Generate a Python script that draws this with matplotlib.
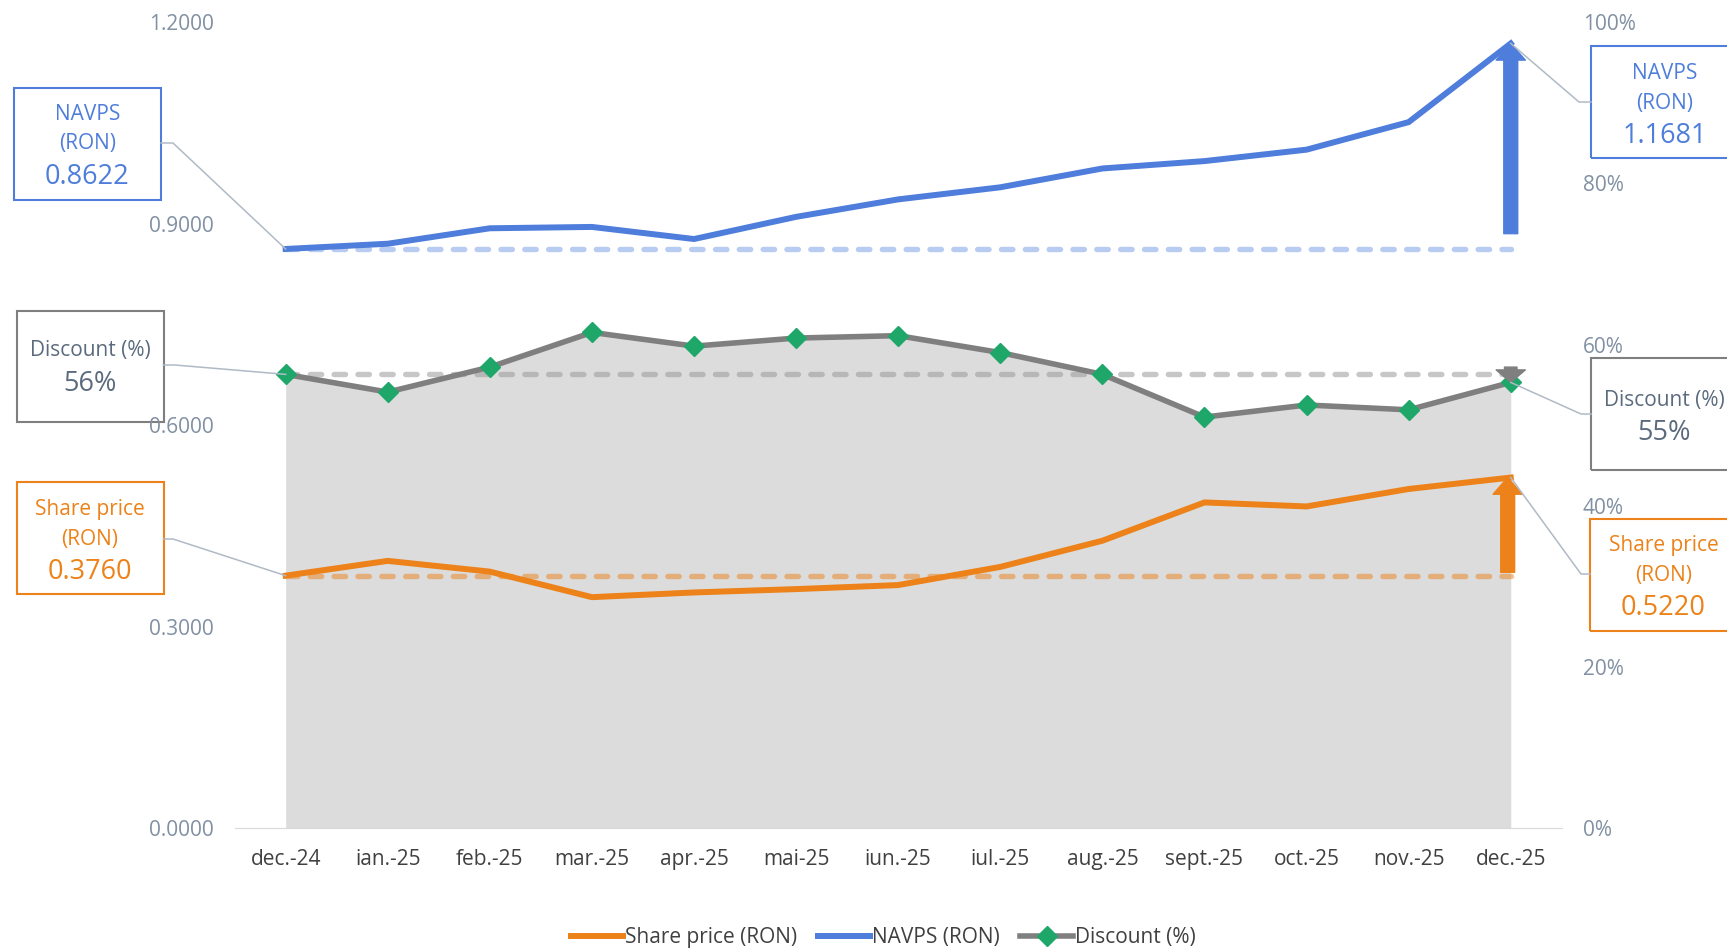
import numpy as np
import matplotlib.pyplot as plt
from matplotlib.lines import Line2D
from matplotlib.patches import Rectangle
from matplotlib.ticker import FuncFormatter

plt.rcParams['font.family'] = ['Open Sans', 'DejaVu Sans']

months = ['dec.-24', 'ian.-25', 'feb.-25', 'mar.-25', 'apr.-25', 'mai-25', 'iun.-25',
          'iul.-25', 'aug.-25', 'sept.-25', 'oct.-25', 'nov.-25', 'dec.-25']
share_price = [0.3760, 0.398, 0.382, 0.344, 0.351, 0.356, 0.362, 0.389, 0.428, 0.485, 0.479, 0.505, 0.5220]
navps = [0.8622, 0.870, 0.893, 0.895, 0.877, 0.910, 0.936, 0.954, 0.982, 0.993, 1.010, 1.051, 1.1681]
discount = [0.563, 0.541, 0.572, 0.615, 0.598, 0.608, 0.611, 0.590, 0.563, 0.510, 0.525, 0.519, 0.553]
left_ticks = [0.0, 0.3, 0.6, 0.9, 1.2]
right_ticks = [0.0, 0.2, 0.4, 0.6, 0.8, 1.0]

ORANGE = '#EC8219'
BLUE = '#4E7DDB'
GRAY = '#7F7F7F'
GREEN = '#1FA76A'
TICK = '#8190A2'
LEADER = '#B0BAC6'

W, H = 1727, 949
fig = plt.figure(figsize=(W / 100, H / 100), dpi=100)
ax = fig.add_axes([234.6 / W, 1 - 828.3 / H, (1561.8 - 234.6) / W, (828.3 - 22) / H])
ax2 = ax.twinx()
ax.set_zorder(ax2.get_zorder() + 1)
ax.patch.set_visible(False)

x = np.arange(len(months))
ax.set_xlim(-0.5, len(months) - 0.5)
ax.set_ylim(0, 1.2)
ax2.set_ylim(0, 1.0)

dash = dict(ls=(0, (2.1, 2.3)), lw=3.9, dash_capstyle='round')

# discount on the right axis (area + line)
ax2.fill_between(x, 0, discount, color='#DCDCDC', lw=0)
ax2.plot([x[0], x[-1]], [discount[0]] * 2, color='#9A9A9A', alpha=0.55, **dash)
l_disc, = ax2.plot(x, discount, color=GRAY, lw=4, marker='D', ms=10,
                   mfc=GREEN, mec=GREEN, label='Discount (%)')
ax2.annotate('', xy=(x[-1], discount[-1]), xytext=(x[-1], 0.572),
             arrowprops=dict(width=9, headwidth=21, headlength=9, color=GRAY, shrink=0))

# prices on the left axis
ax.plot([x[0], x[-1]], [navps[0]] * 2, color=BLUE, alpha=0.4, **dash)
ax.plot([x[0], x[-1]], [share_price[0]] * 2, color=ORANGE, alpha=0.5, **dash)
l_nav, = ax.plot(x, navps, color=BLUE, lw=4.3, label='NAVPS (RON)')
l_sp, = ax.plot(x, share_price, color=ORANGE, lw=4.3, label='Share price (RON)')
ax.annotate('', xy=(x[-1], navps[-1]), xytext=(x[-1], 0.885),
            arrowprops=dict(width=10, headwidth=21, headlength=12, color=BLUE, shrink=0))
ax.annotate('', xy=(x[-1] - 0.03, share_price[-1]), xytext=(x[-1] - 0.03, 0.381),
            arrowprops=dict(width=10, headwidth=21, headlength=12, color=ORANGE, shrink=0))

ax.set_xticks(x)
ax.set_xticklabels(months)
ax.set_yticks(left_ticks)
ax.yaxis.set_major_formatter(FuncFormatter(lambda v, p: '%.4f' % v))
ax2.set_yticks(right_ticks)
ax2.yaxis.set_major_formatter(FuncFormatter(lambda v, p: '%d%%' % round(v * 100)))
ax.tick_params(axis='x', length=0, pad=15, labelsize=15, labelcolor='#404040')
ax.tick_params(axis='y', length=0, pad=15, labelsize=15, labelcolor=TICK)
ax2.tick_params(axis='y', length=0, pad=15, labelsize=15, labelcolor=TICK)
for s in ['top', 'left', 'right']:
    ax.spines[s].set_visible(False)
ax.spines['bottom'].set_color('#D9D9D9')
for s in ax2.spines.values():
    s.set_visible(False)

fig.legend([l_sp, l_nav, l_disc], ['Share price (RON)', 'NAVPS (RON)', 'Discount (%)'],
           loc='center', bbox_to_anchor=(883 / W, 1 - 938 / H), ncol=3, frameon=False,
           fontsize=15, handlelength=2.5, handletextpad=0.1, columnspacing=1.0,
           labelcolor='#404040')


# callout boxes (positions in pixels, origin top-left)
def fx(px):
    return px / W


def fy(py):
    return 1 - py / H


def callout(left, top, w, h, ec, tc, texts, start, elbow, axis, pt):
    fig.add_artist(Rectangle((fx(left), fy(top + h)), w / W, h / H, transform=fig.transFigure,
                             fill=False, ec=ec, lw=1.5))
    for s, cy, size in texts:
        fig.text(fx(left + w / 2), fy(cy + 3), s, ha='center', va='center', color=tc, fontsize=size)
    px, py = fig.transFigure.inverted().transform(axis.transData.transform(pt))
    fig.add_artist(Line2D([fx(start[0]), fx(elbow[0]), px], [fy(start[1]), fy(elbow[1]), py],
                          transform=fig.transFigure, color=LEADER, lw=1.1))


DISC_TXT = '#5B6B7D'
LBL, VAL = 15, 19.5
callout(14, 88, 147, 112, BLUE, BLUE,
        [('NAVPS', 112, LBL), ('(RON)', 141, LBL), ('%.4f' % navps[0], 174, VAL)],
        (161, 143), (173, 143), ax, (x[0], navps[0]))
callout(16.5, 311, 147, 111, GRAY, DISC_TXT,
        [('Discount (%)', 348, LBL), ('%d%%' % round(discount[0] * 100), 381, VAL)],
        (163.5, 365), (175, 365), ax2, (x[0], discount[0]))
callout(16.5, 482, 147, 112, ORANGE, ORANGE,
        [('Share price', 507, LBL), ('(RON)', 536, LBL), ('%.4f' % share_price[0], 569, VAL)],
        (163.5, 539), (173, 539), ax, (x[0], share_price[0]))
callout(1591, 46, 147, 112, BLUE, BLUE,
        [('NAVPS', 70.5, LBL), ('(RON)', 100, LBL), ('%.4f' % navps[-1], 133, VAL)],
        (1591, 102), (1579, 102), ax, (x[-1], navps[-1]))
callout(1591, 358, 147, 112, GRAY, DISC_TXT,
        [('Discount (%)', 397.5, LBL), ('%d%%' % round(discount[-1] * 100), 429.5, VAL)],
        (1591, 414), (1581, 414), ax2, (x[-1], discount[-1]))
callout(1590, 519, 147, 112, ORANGE, ORANGE,
        [('Share price', 542, LBL), ('(RON)', 573, LBL), ('%.4f' % share_price[-1], 605, VAL)],
        (1590, 574), (1581, 574), ax, (x[-1], share_price[-1]))

fig.savefig('out.png', dpi=100)
